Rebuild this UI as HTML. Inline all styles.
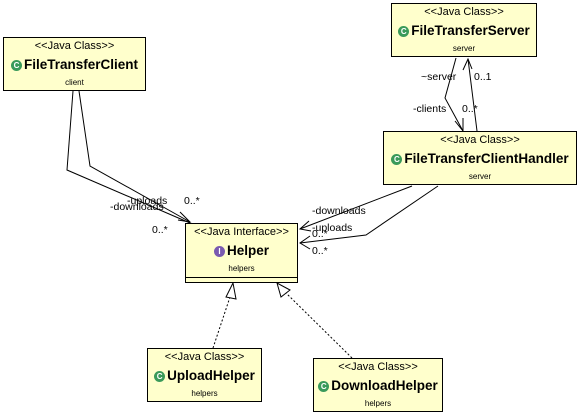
<!DOCTYPE html>
<html><head><style>
body{margin:0;width:581px;height:416px;background:#fff;position:relative;font-family:"Liberation Sans",sans-serif;overflow:hidden}
.b{position:absolute;background:#ffffcc;border:1px solid #000;box-sizing:border-box;text-align:center}
.s{font-size:11px;margin-top:2px;line-height:13px}
.n{font-size:13.5px;font-weight:bold;line-height:18px;white-space:nowrap;margin-top:3px}
.p{font-size:8px;line-height:11px;margin-top:3px}
.i{display:inline-block;width:11px;height:11px;border-radius:50%;background:#3a9a5a;color:#fff;font-size:8px;line-height:11px;vertical-align:1px;margin-right:2px}
.l{position:absolute;font-size:10.5px;white-space:nowrap}
</style></head><body>
<svg width="581" height="416" style="position:absolute;left:0;top:0" fill="none" stroke="#000" stroke-width="1">
<polyline points="73,91 67,170 190,223"/>
<polyline points="79,91 90,166 190,222"/>
<polyline points="180,212 190,222 178,220"/>
<polyline points="456,58 445,98 463,131"/>
<polyline points="455,121 463,131 463,118"/>
<polyline points="477,131 468,59"/>
<polyline points="463,70 468,59 472,69"/>
<polyline points="412,186 300,229"/>
<polyline points="309,221 300,229 311,231"/>
<polyline points="438,186 366,235 300,243"/>
<polyline points="310,236 300,243 310,249"/>
<line x1="213" y1="348" x2="231" y2="294" stroke-dasharray="2,2"/>
<polygon points="233,283 226,297 236,299" fill="#fff"/>
<line x1="352" y1="358" x2="285" y2="292" stroke-dasharray="2,2"/>
<polygon points="277,283 281,297 290,290" fill="#fff"/>
</svg>
<div class="b" style="left:3px;top:37px;width:143px;height:54px"><div class="s">&lt;&lt;Java Class&gt;&gt;</div><div class="n"><span class="i">C</span>FileTransferClient</div><div class="p">client</div></div>
<div class="b" style="left:391px;top:3px;width:146px;height:54px"><div class="s">&lt;&lt;Java Class&gt;&gt;</div><div class="n"><span class="i">C</span>FileTransferServer</div><div class="p">server</div></div>
<div class="b" style="left:383px;top:131px;width:194px;height:54px"><div class="s">&lt;&lt;Java Class&gt;&gt;</div><div class="n"><span class="i">C</span>FileTransferClientHandler</div><div class="p">server</div></div>
<div class="b" style="left:185px;top:223px;width:113px;height:60px"><div class="s">&lt;&lt;Java Interface&gt;&gt;</div><div class="n"><span class="i" style="background:#7a5ab0">I</span>Helper</div><div class="p">helpers</div><div style="position:absolute;left:0;right:0;top:53px;border-top:1px solid #000"></div></div>
<div class="b" style="left:147px;top:348px;width:115px;height:54px"><div class="s">&lt;&lt;Java Class&gt;&gt;</div><div class="n"><span class="i">C</span>UploadHelper</div><div class="p">helpers</div></div>
<div class="b" style="left:313px;top:358px;width:130px;height:54px"><div class="s">&lt;&lt;Java Class&gt;&gt;</div><div class="n"><span class="i">C</span>DownloadHelper</div><div class="p">helpers</div></div>
<div class="l" style="left:127px;top:195px">-uploads</div>
<div class="l" style="left:110px;top:201px">-downloads</div>
<div class="l" style="left:184px;top:195px">0..*</div>
<div class="l" style="left:152px;top:224px">0..*</div>
<div class="l" style="left:421px;top:71px">~server</div>
<div class="l" style="left:474px;top:71px">0..1</div>
<div class="l" style="left:413px;top:103px">-clients</div>
<div class="l" style="left:462px;top:103px">0..*</div>
<div class="l" style="left:312px;top:205px">-downloads</div>
<div class="l" style="left:312px;top:222px">-uploads</div>
<div class="l" style="left:312px;top:228px">0..*</div>
<div class="l" style="left:312px;top:245px">0..*</div>
</body></html>
